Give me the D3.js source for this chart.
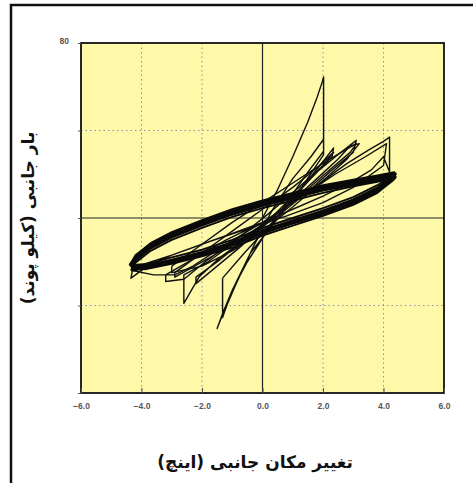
<!DOCTYPE html>
<html>
<head>
<meta charset="utf-8">
<script src="https://cdn.jsdelivr.net/npm/d3@7"></script>
<style>
  body { margin: 0; background: #fff; }
</style>
</head>
<body>
<div id="chart"></div>
<script>
// Axis ticks
const xTicks = [-6, -4, -2, 0, 2, 4, 6];
const yTicks = [-80, -40, 0, 40, 80];
const yTickLabels = ['80'];

const xTitle = 'تغییر مکان جانبی (اینچ)';
const yTitle = 'بار جانبی (کیلو پوند)';

// Displacement (in) / load (kip) pairs
const cycle1 = [
  [0, 0], [0.5, 13], [1.0, 28], [1.5, 44], [1.8, 55], [1.97, 62], [2.02, 64.5], [2.02, 30.5],
  [1.5, 21], [0.9, 9], [0.2, -5], [-0.5, -20], [-1.0, -33], [-1.3, -43], [-1.5, -50.5],
  [-1.4, -47], [-0.9, -31], [-0.3, -13], [0.3, 3], [1.0, 18], [1.6, 28], [2.02, 36],
  [2.02, 29], [1.2, 12], [0.4, -2], [-0.4, -16], [-1.0, -33], [-1.32, -45.5], [-1.32, -27.5]
];

const cycle2 = [
  [-1.32, -27.5], [-0.6, -16], [0, -7], [0.7, 4], [1.3, 14], [1.9, 24], [2.35, 32], [2.3, 28],
  [1.6, 18], [0.8, 6], [0, -4], [-0.8, -14], [-1.5, -22], [-2.2, -30], [-2.2, -27],
  [-1.4, -19], [-0.6, -10], [0.2, -1], [1.0, 10], [1.8, 21], [2.5, 29], [3.1, 35.5], [3.0, 30],
  [2.3, 22], [1.5, 12], [0.6, 2], [-0.4, -8], [-1.4, -18], [-2.1, -27], [-2.6, -39], [-2.6, -26],
  [-1.8, -20], [-1.0, -12], [0, -3], [1.0, 8], [1.8, 18], [2.5, 27], [2.9, 33], [3.2, 34],
  [2.8, 27], [2.0, 17], [1.0, 5], [0, -6], [-1.0, -15], [-2.0, -22], [-3.0, -25], [-3.0, -22]
];

const cycle2b = [
  [-3.0, -22], [-2.0, -12], [-1.0, -2], [0, 7], [1.0, 16], [2.0, 25], [2.6, 30], [3.1, 34],
  [2.9, 30], [2.3, 23], [1.4, 12], [0.4, 1], [-0.6, -9], [-1.6, -17], [-2.5, -24], [-2.9, -27],
  [-2.9, -25], [-2.0, -16], [-1.0, -6], [0, 4], [1.0, 14], [1.8, 23], [2.35, 30], [2.0, 24],
  [1.2, 14], [0.2, 2], [-0.8, -9], [-1.8, -19], [-2.6, -28], [-3.2, -29], [-3.2, -26]
];

const cycle3 = [
  [-3.2, -26], [-2.2, -18], [-1.2, -10], [0, -2], [1.0, 7], [2.0, 17], [2.8, 25], [3.5, 31],
  [4.0, 35], [4.2, 37], [4.2, 21], [4.0, 28], [3.6, 22], [3.0, 17], [2.0, 10], [1.0, 4],
  [0, -2], [-1.0, -7], [-2.0, -12], [-3.0, -17], [-3.8, -22], [-4.35, -27.5], [-4.3, -24],
  [-3.6, -26], [-2.9, -26], [-2.3, -22], [-1.2, -12], [0, -2], [1.2, 9], [2.4, 20],
  [3.4, 28], [4.1, 34], [4.0, 24], [3.0, 14], [2.0, 7], [0.8, 1], [-0.5, -5], [-1.8, -11],
  [-3.0, -17], [-3.9, -21], [-4.3, -24]
];

// Repeated +/-4.3 in cycles (the dark band)
const loop1 = [
  [-4.3, -24], [-3.8, -23], [-3, -20.5], [-2, -17], [-1, -12.5], [0, -7], [1, -2.5], [2, 2],
  [3, 7], [3.8, 12.5], [4.25, 17.5], [4.35, 19.5], [3.8, 17.5], [3, 15.5], [2, 13], [1, 9.5],
  [0, 6], [-1, 2], [-2, -3], [-3, -8.5], [-3.7, -13.5], [-4.2, -19], [-4.35, -22.5]
];
const loop2 = [
  [-4.35, -22.5], [-3.8, -21.5], [-3, -19], [-2, -15.5], [-1, -11], [0, -5.5], [1, -1], [2, 3.5],
  [3, 8.5], [3.8, 14], [4.3, 19], [4.4, 20.5], [3.8, 19], [3, 17], [2, 14.5], [1, 11],
  [0, 7.5], [-1, 3.5], [-2, -1.5], [-3, -7], [-3.7, -12], [-4.2, -17.5], [-4.4, -21.5]
];
const loop3 = [
  [-4.4, -21.5], [-3.9, -23.5], [-3, -21], [-2, -17.5], [-1, -13.5], [0, -8], [1, -3.5], [2, 1],
  [3, 6], [3.8, 11.5], [4.3, 17], [4.4, 18.5], [3.8, 16.5], [3, 14.5], [2, 11.5], [1, 8],
  [0, 4.5], [-1, 0.5], [-2, -4.5], [-3, -10], [-3.7, -15], [-4.2, -20.5], [-4.35, -24]
];
const loop4 = [
  [-4.35, -24], [-3.8, -22], [-3, -19.5], [-2, -16], [-1, -11.5], [0, -6], [1, -1.5], [2, 3],
  [3, 8], [3.8, 13.5], [4.3, 18.5], [4.4, 20], [3.8, 18], [3, 16], [2, 13.5], [1, 10],
  [0, 6.5], [-1, 2.5], [-2, -2.5], [-3, -8], [-3.7, -13], [-4.2, -18.5], [-4.3, -21.5]
];
const loop5 = [
  [-4.3, -21.5], [-3.8, -21], [-3, -18], [-2, -14.5], [-1, -10], [0, -4.5], [1, 0], [2, 4.5],
  [3, 9.5], [3.8, 15], [4.3, 19.5], [4.35, 21], [3.8, 19.5], [3, 17.5], [2, 15], [1, 11.5],
  [0, 8], [-1, 4], [-2, -1], [-3, -6.5], [-3.7, -11.5], [-4.2, -17], [-4.35, -21]
];
const loop6 = [
  [-4.35, -21], [-3.9, -22.5], [-3, -20], [-2, -16.5], [-1, -12.5], [0, -7], [1, -2.5], [2, 1.5],
  [3, 6.5], [3.8, 12], [4.3, 17.5], [4.4, 19], [3.8, 17], [3, 15], [2, 12.5], [1, 9],
  [0, 5.5], [-1, 1.5], [-2, -3.5], [-3, -9], [-3.7, -14], [-4.2, -19.5], [-4.3, -23]
];
const loop7 = [
  [-4.3, -23], [-3.8, -22.5], [-3, -20], [-2, -16.5], [-1, -12], [0, -6.5], [1, -2], [2, 2.5],
  [3, 7.5], [3.8, 13], [4.3, 18.5], [4.4, 20], [3.8, 18.5], [3, 16.5], [2, 14], [1, 10.5],
  [0, 7], [-1, 3], [-2, -2], [-3, -7.5], [-3.7, -12.5], [-4.2, -18], [-4.35, -22]
];

const cycles = [cycle1, cycle2, cycle2b, cycle3];
const loops = [loop1, loop2, loop3, loop4, loop5, loop6, loop7];

// Layout
const W = 473, H = 483;
const margin = { top: 43, right: 29, bottom: 90, left: 81 };
const width = W - margin.left - margin.right;
const height = H - margin.top - margin.bottom;

const svg = d3.select('#chart')
  .append('svg')
  .attr('width', W)
  .attr('height', H);

// outer frame (right and bottom run off the picture)
svg.append('rect')
  .attr('x', 11).attr('y', 5)
  .attr('width', 480).attr('height', 500)
  .attr('fill', '#fff')
  .attr('stroke', '#111')
  .attr('stroke-width', 2.5);

const g = svg.append('g')
  .attr('transform', `translate(${margin.left},${margin.top})`);

const x = d3.scaleLinear().domain([-6, 6]).range([0, width]);
const y = d3.scaleLinear().domain([-80, 80]).range([height, 0]);

g.append('rect')
  .attr('width', width)
  .attr('height', height)
  .attr('fill', '#fdf9a8');

// dotted grid
g.selectAll('.vgrid')
  .data(xTicks.filter(d => d !== 0 && Math.abs(d) !== 6))
  .enter()
  .append('line')
  .attr('x1', d => x(d)).attr('x2', d => x(d))
  .attr('y1', 0).attr('y2', height)
  .attr('stroke', '#8a93b0')
  .attr('stroke-width', 1)
  .attr('stroke-dasharray', '1.5 3');

g.selectAll('.hgrid')
  .data(yTicks.filter(d => d !== 0 && Math.abs(d) !== 80))
  .enter()
  .append('line')
  .attr('y1', d => y(d)).attr('y2', d => y(d))
  .attr('x1', 0).attr('x2', width)
  .attr('stroke', '#8a93b0')
  .attr('stroke-width', 1)
  .attr('stroke-dasharray', '1.5 3');

// zero lines
g.append('line')
  .attr('x1', x(0)).attr('x2', x(0))
  .attr('y1', 0).attr('y2', height)
  .attr('stroke', '#222').attr('stroke-width', 1.2);
g.append('line')
  .attr('x1', 0).attr('x2', width)
  .attr('y1', y(0)).attr('y2', y(0))
  .attr('stroke', '#222').attr('stroke-width', 1.2);

// hysteresis curves
const line = d3.line()
  .x(d => x(d[0]))
  .y(d => y(d[1]));

g.selectAll('.cycle')
  .data(cycles)
  .enter()
  .append('path')
  .attr('class', 'cycle')
  .attr('d', line)
  .attr('fill', 'none')
  .attr('stroke', '#111')
  .attr('stroke-width', 1.4)
  .attr('stroke-linejoin', 'round');

g.selectAll('.loop')
  .data(loops)
  .enter()
  .append('path')
  .attr('class', 'loop')
  .attr('d', line)
  .attr('fill', 'none')
  .attr('stroke', '#0a0a0a')
  .attr('stroke-width', 1.9)
  .attr('stroke-linejoin', 'round');

// plot border
g.append('rect')
  .attr('width', width)
  .attr('height', height)
  .attr('fill', 'none')
  .attr('stroke', '#111')
  .attr('stroke-width', 1.8);

// bottom axis: ticks inside, labels below
const xAxis = g.append('g')
  .attr('transform', `translate(0,${height})`)
  .call(d3.axisBottom(x).tickValues(xTicks).tickSize(-5).tickPadding(10).tickFormat(d3.format('.1f')));
xAxis.select('.domain').remove();
xAxis.selectAll('line').attr('stroke', '#555');
xAxis.selectAll('text')
  .attr('font-family', 'Liberation Sans, Arial, sans-serif')
  .attr('font-size', 8.5)
  .attr('font-weight', 'bold')
  .attr('fill', '#555')
  .text(d => d.toFixed(1).replace('-', '−'));

// left axis: only the top value is labelled
const yAxis = g.append('g')
  .call(d3.axisLeft(y).tickValues(yTicks).tickSize(3).tickPadding(9)
    .tickFormat(d => d === 80 ? yTickLabels[0] : ''));
yAxis.select('.domain').remove();
yAxis.selectAll('line').attr('stroke', '#555');
yAxis.selectAll('text')
  .attr('font-family', 'Liberation Sans, Arial, sans-serif')
  .attr('font-size', 8.5)
  .attr('font-weight', 'bold')
  .attr('fill', '#555')
  .attr('dy', '0.1em');

// titles
svg.append('text')
  .attr('x', 255)
  .attr('y', 468)
  .attr('text-anchor', 'middle')
  .attr('direction', 'rtl')
  .attr('font-family', 'DejaVu Sans, sans-serif')
  .attr('font-size', 17)
  .attr('font-weight', 'bold')
  .attr('fill', '#111')
  .text(xTitle);

svg.append('text')
  .attr('transform', `translate(34,${margin.top + height / 2}) rotate(-90)`)
  .attr('text-anchor', 'middle')
  .attr('direction', 'rtl')
  .attr('font-family', 'DejaVu Sans, sans-serif')
  .attr('font-size', 17)
  .attr('font-weight', 'bold')
  .attr('fill', '#111')
  .text(yTitle);
</script>
</body>
</html>
